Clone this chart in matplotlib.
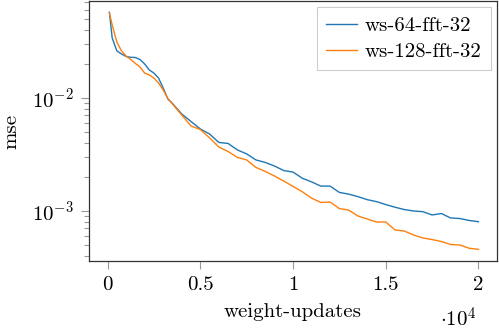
import matplotlib
matplotlib.use("Agg")
import matplotlib.pyplot as plt
from matplotlib.ticker import LogLocator, NullFormatter

plt.rcParams['font.family'] = 'serif'
plt.rcParams['font.serif'] = ['cmr10']
plt.rcParams['mathtext.fontset'] = 'cm'
plt.rcParams['axes.formatter.use_mathtext'] = True
plt.rcParams['axes.unicode_minus'] = False

# weight updates
updates = [100, 250, 500, 750, 1000, 1250, 1500, 1750, 2000, 2250, 2500, 2750,
           3000, 3250, 3500, 4000, 4500, 5000, 5500, 6000, 6500, 7000, 7500,
           8000, 8500, 9000, 9500, 10000, 10500, 11000, 11500, 12000, 12500,
           13000, 13500, 14000, 14500, 15000, 15500, 16000, 16500, 17000,
           17500, 18000, 18500, 19000, 19500, 20000]

# mse, ws-64-fft-32
mse_64 = [0.0573, 0.0340, 0.0261, 0.0245, 0.0233, 0.0229, 0.0228, 0.0219,
          0.0200, 0.0177, 0.0166, 0.0150, 0.01226, 0.00980, 0.00894, 0.00722,
          0.00619, 0.00532, 0.00480, 0.00404, 0.00396, 0.00347, 0.00320,
          0.00283, 0.00269, 0.00250, 0.00228, 0.00221, 0.00195, 0.00181,
          0.00166, 0.00166, 0.00146, 0.00141, 0.00134, 0.00126, 0.00121,
          0.00114, 0.00108, 0.00103, 0.00100, 0.000986, 0.000922, 0.000950,
          0.000867, 0.000858, 0.000824, 0.000804]

# mse, ws-128-fft-32
mse_128 = [0.0565, 0.0443, 0.0313, 0.0261, 0.0235, 0.0219, 0.0202, 0.0188,
           0.0166, 0.0160, 0.0150, 0.01357, 0.01177, 0.00990, 0.00885, 0.00707,
           0.00565, 0.00526, 0.00444, 0.00368, 0.00336, 0.00298, 0.00283,
           0.00243, 0.00224, 0.00204, 0.00184, 0.00165, 0.00148, 0.00130,
           0.00119, 0.00120, 0.00105, 0.00102, 0.000903, 0.000850, 0.000799,
           0.000799, 0.000679, 0.000665, 0.000613, 0.000577, 0.000559,
           0.000537, 0.000505, 0.000500, 0.000468, 0.000458]

xticks = [0, 5000, 10000, 15000, 20000]
xticklabels = ['0', '0.5', '1', '1.5', '2']

fig = plt.figure(figsize=(4.99, 3.31), dpi=100)
ax = fig.add_axes([89/499, 1 - 261/331, 408/499, 260/331])

ax.plot(updates, mse_64, color='#1f77b4', lw=1.0, label='ws-64-fft-32')
ax.plot(updates, mse_128, color='#ff7f0e', lw=1.0, label='ws-128-fft-32')

ax.set_yscale('log')
ax.set_xlim(-1000, 21000)
ax.set_ylim(3.61e-4, 0.0721)
ax.set_xticks(xticks)
ax.set_xticklabels(xticklabels)
ax.yaxis.set_minor_locator(LogLocator(base=10, subs=range(2, 10), numticks=20))
ax.yaxis.set_minor_formatter(NullFormatter())

for s in ax.spines.values():
    s.set_color('#333333')
    s.set_linewidth(0.9)

ax.tick_params(axis='both', which='major', direction='out', length=6,
               width=0.8, color='#999999', labelsize=15, pad=5)
ax.tick_params(axis='both', which='minor', direction='out', length=3.5,
               width=0.8, color='#999999')
ax.tick_params(top=False, right=False, which='both')

ax.set_xlabel('weight-updates', fontsize=15, labelpad=6)
ax.set_ylabel('mse', fontsize=15, labelpad=8)
# scale factor for the x axis, as pgfplots puts it
ax.text(0.86, -0.255, r'$\cdot 10^4$', transform=ax.transAxes, fontsize=15,
        ha='left', va='baseline')

leg = ax.legend(loc='upper right', fontsize=15, frameon=True, fancybox=False,
                framealpha=1, edgecolor='#cccccc', borderaxespad=0.3,
                handlelength=1.5, handletextpad=0.35, labelspacing=0.35,
                borderpad=0.45)
leg.get_frame().set_linewidth(0.8)

fig.savefig('out.png', dpi=100)
